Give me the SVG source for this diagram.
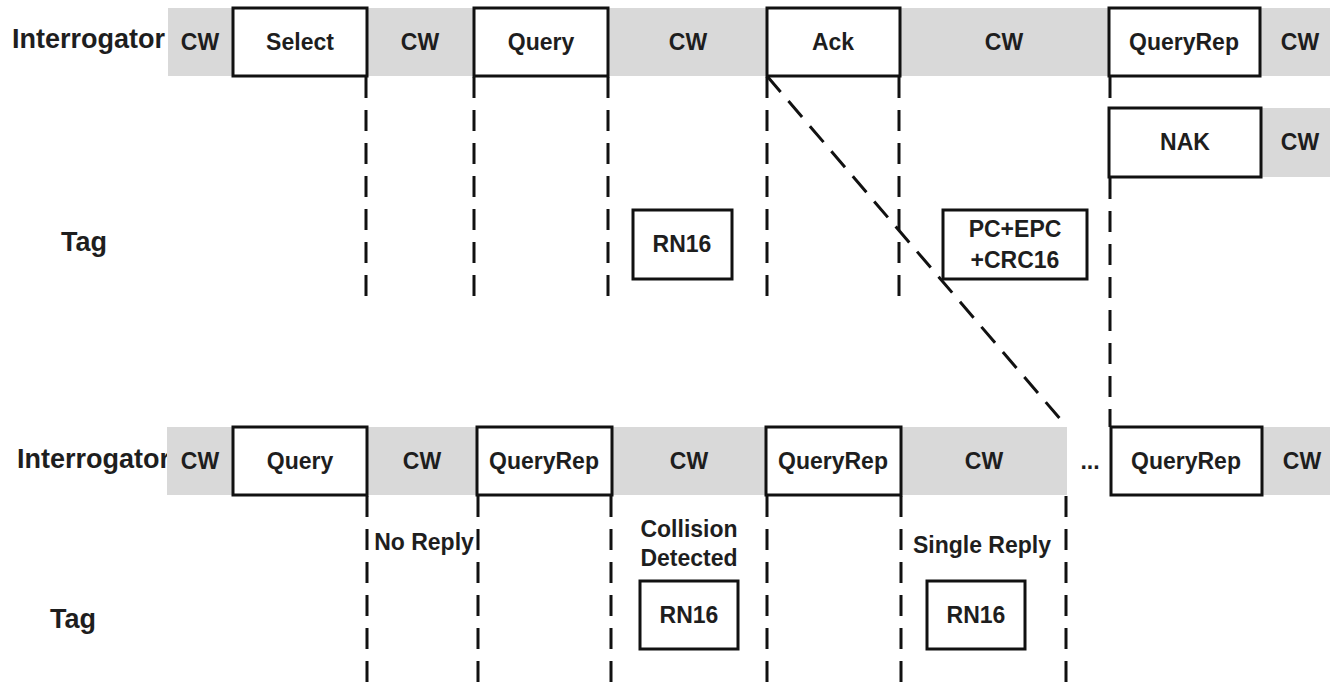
<svg xmlns="http://www.w3.org/2000/svg" width="1330" height="688" viewBox="0 0 1330 688">
  <style>
    .band { fill: #d9d9d9; }
    .box { fill: #ffffff; stroke: #111111; stroke-width: 3; }
    .lbl { font-family: "Liberation Sans", Arial, sans-serif; font-weight: bold; font-size: 23px; fill: #1e1e1e; text-anchor: middle; }
    .side { font-family: "Liberation Sans", Arial, sans-serif; font-weight: bold; font-size: 27px; fill: #1e1e1e; }
    .dash { fill: none; stroke: #111111; stroke-width: 3; stroke-dasharray: 21 12; }
  </style>
  <rect width="1330" height="688" fill="#ffffff"/>

  <!-- Upper sequence: Select / Query / Ack / QueryRep + NAK -->
  <g id="upper-interrogator-label">
    <text class="side" x="12" y="48">Interrogator</text>
  </g>
  <g id="upper-band">
    <rect class="band" x="168" y="8" width="1162" height="68"/>
    <text class="lbl" x="200" y="50">CW</text>
    <text class="lbl" x="420" y="50">CW</text>
    <text class="lbl" x="688" y="50">CW</text>
    <text class="lbl" x="1004" y="50">CW</text>
    <text class="lbl" x="1300" y="50">CW</text>
  </g>
  <g id="select">
    <rect class="box" x="233" y="8" width="134" height="68"/>
    <text class="lbl" x="300" y="50">Select</text>
  </g>
  <g id="query-top">
    <rect class="box" x="474" y="8" width="134" height="68"/>
    <text class="lbl" x="541" y="50">Query</text>
  </g>
  <g id="ack">
    <rect class="box" x="767" y="8" width="133" height="68"/>
    <text class="lbl" x="833" y="50">Ack</text>
  </g>
  <g id="queryrep-top">
    <rect class="box" x="1109" y="8" width="151" height="68"/>
    <text class="lbl" x="1184" y="50">QueryRep</text>
  </g>
  <g id="nak">
    <rect class="band" x="1261" y="108" width="69" height="69"/>
    <text class="lbl" x="1300" y="150">CW</text>
    <rect class="box" x="1109" y="108" width="152" height="69"/>
    <text class="lbl" x="1185" y="150">NAK</text>
  </g>
  <g id="upper-tag-label">
    <text class="side" x="61" y="251">Tag</text>
  </g>
  <g id="rn16-top">
    <rect class="box" x="633" y="210" width="99" height="69"/>
    <text class="lbl" x="682" y="252">RN16</text>
  </g>
  <g id="pc-epc-crc16">
    <rect class="box" x="943" y="210" width="144" height="69"/>
    <text class="lbl" x="1015" y="237">PC+EPC</text>
    <text class="lbl" x="1015" y="268">+CRC16</text>
  </g>

  <!-- Lower sequence: Query / QueryRep slots -->
  <g id="lower-interrogator-label">
    <text class="side" x="17" y="468">Interrogator</text>
  </g>
  <g id="lower-band">
    <rect class="band" x="167" y="427" width="900" height="68"/>
    <rect class="band" x="1262" y="427" width="68" height="68"/>
    <text class="lbl" x="200" y="469">CW</text>
    <text class="lbl" x="422" y="469">CW</text>
    <text class="lbl" x="689" y="469">CW</text>
    <text class="lbl" x="984" y="469">CW</text>
    <text class="lbl" x="1090" y="469">...</text>
    <text class="lbl" x="1302" y="469">CW</text>
  </g>
  <g id="query-bottom">
    <rect class="box" x="233" y="427" width="134" height="68"/>
    <text class="lbl" x="300" y="469">Query</text>
  </g>
  <g id="queryrep-1">
    <rect class="box" x="477" y="427" width="135" height="68"/>
    <text class="lbl" x="544" y="469">QueryRep</text>
  </g>
  <g id="queryrep-2">
    <rect class="box" x="766" y="427" width="135" height="68"/>
    <text class="lbl" x="833" y="469">QueryRep</text>
  </g>
  <g id="queryrep-3">
    <rect class="box" x="1111" y="427" width="151" height="68"/>
    <text class="lbl" x="1186" y="469">QueryRep</text>
  </g>
  <g id="lower-tag-label">
    <text class="side" x="50" y="628">Tag</text>
  </g>
  <g id="no-reply">
    <text class="lbl" x="424" y="550">No Reply</text>
  </g>
  <g id="collision">
    <text class="lbl" x="689" y="537">Collision</text>
    <text class="lbl" x="689" y="566">Detected</text>
    <rect class="box" x="640" y="581" width="98" height="68"/>
    <text class="lbl" x="689" y="623">RN16</text>
  </g>
  <g id="single-reply">
    <text class="lbl" x="982" y="553">Single Reply</text>
    <rect class="box" x="927" y="581" width="98" height="68"/>
    <text class="lbl" x="976" y="623">RN16</text>
  </g>

  <!-- Timing guides and the Ack-to-slot zoom line -->
  <g id="connectors">
    <line class="dash" x1="366" y1="77" x2="366" y2="303"/>
    <line class="dash" x1="474" y1="77" x2="474" y2="303"/>
    <line class="dash" x1="608" y1="77" x2="608" y2="303"/>
    <line class="dash" x1="767" y1="77" x2="767" y2="303"/>
    <line class="dash" x1="899" y1="77" x2="899" y2="303"/>
    <line class="dash" x1="1110" y1="77" x2="1110" y2="108"/>
    <line class="dash" x1="1110" y1="178" x2="1110" y2="427"/>
    <line class="dash" x1="767" y1="76" x2="1067" y2="427"/>
    <line class="dash" x1="367" y1="496" x2="367" y2="688"/>
    <line class="dash" x1="478" y1="496" x2="478" y2="688"/>
    <line class="dash" x1="611" y1="496" x2="611" y2="688"/>
    <line class="dash" x1="767" y1="496" x2="767" y2="688"/>
    <line class="dash" x1="901" y1="496" x2="901" y2="688"/>
    <line class="dash" x1="1066" y1="496" x2="1066" y2="688"/>
  </g>
</svg>
